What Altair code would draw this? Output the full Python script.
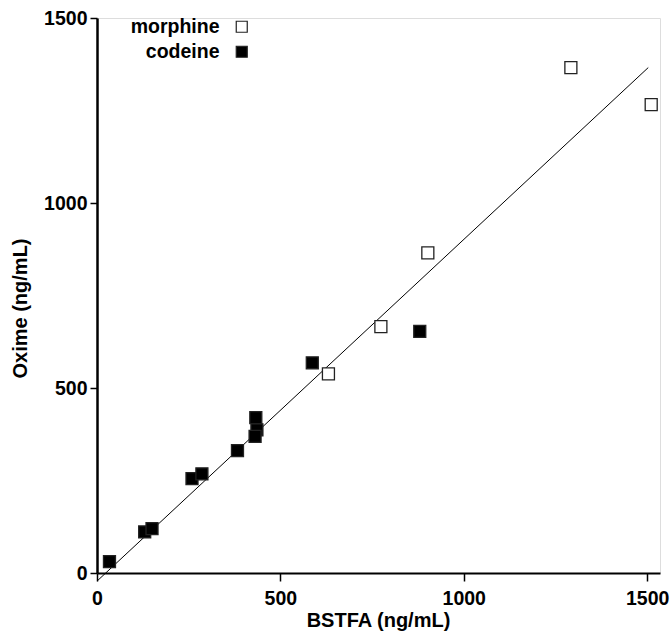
import altair as alt
import pandas as pd

# Data
morphine_x = [631, 774, 902, 1292, 1511]
morphine_y = [538, 666, 865, 1366, 1266]
codeine_x = [34, 130, 150, 259, 286, 383, 433, 436, 431, 587, 880]
codeine_y = [31, 111, 120, 255, 268, 331, 420, 387, 369, 568, 653]
line_x = [0, 1503]
line_y = [-22, 1366]
x_ticks = [0, 500, 1000, 1500]
y_ticks = [0, 500, 1000, 1500]

pts = pd.DataFrame({
    "x": morphine_x + codeine_x,
    "y": morphine_y + codeine_y,
    "drug": ["morphine"] * len(morphine_x) + ["codeine"] * len(codeine_x),
})
fit = pd.DataFrame({"x": line_x, "y": line_y})

FONT = "Liberation Sans"

xscale = alt.Scale(domain=[0, 1535], nice=False, zero=False)
yscale = alt.Scale(domain=[0, 1500], nice=False, zero=False)

xaxis = alt.Axis(
    title="BSTFA (ng/mL)", values=x_ticks, grid=False, format="d",
    tickSize=8, tickWidth=1.5, tickColor="black",
    domainColor="black", domainWidth=2,
    labelFont=FONT, labelFontSize=19.5, labelFontWeight="bold", labelColor="black",
    labelPadding=8, labelBaseline="top", labelFlush=False,
    titleFont=FONT, titleFontSize=20, titleFontWeight="bold", titleColor="black",
    titleX=281, titleY=47, titleBaseline="middle", titleAlign="center",
)
yaxis = alt.Axis(
    title="Oxime (ng/mL)", values=y_ticks, grid=False, format="d",
    tickSize=7, tickWidth=1.5, tickColor="black",
    domainColor="black", domainWidth=2.5,
    labelFont=FONT, labelFontSize=19.5, labelFontWeight="bold", labelColor="black",
    labelPadding=3, labelBaseline="middle", labelFlush=False,
    titleFont=FONT, titleFontSize=20, titleFontWeight="bold", titleColor="black",
    titleX=-77, titleY=290, titleAngle=270, titleBaseline="middle", titleAlign="center",
)

line = alt.Chart(fit).mark_line(color="black", strokeWidth=1, clip=False).encode(
    x=alt.X("x:Q", scale=xscale, axis=xaxis),
    y=alt.Y("y:Q", scale=yscale, axis=yaxis),
)

points = alt.Chart(pts).mark_point(
    shape="square", size=144, filled=True, opacity=1, stroke="#222", strokeWidth=1.3
).encode(
    x=alt.X("x:Q", scale=xscale, axis=xaxis),
    y=alt.Y("y:Q", scale=yscale, axis=yaxis),
    fill=alt.Fill(
        "drug:N",
        scale=alt.Scale(domain=["morphine", "codeine"], range=["white", "black"]),
        legend=alt.Legend(
            title=None, orient="none", legendX=135, legendY=-1,
            padding=0, rowPadding=4, symbolType="square", symbolSize=121,
            symbolStrokeColor="#222", symbolStrokeWidth=1.2, symbolOpacity=1,
            labelFont=FONT, labelFontSize=19.5, labelFontWeight="bold", labelColor="black",
            labelAlign="right", labelOffset={"expr": "-32"}, labelLimit=300,
        ),
    ),
)

chart = alt.layer(line, points).properties(
    width=563, height=555,
    autosize=alt.AutoSizeParams(type="none"),
    padding={"left": 97, "top": 18, "right": 11, "bottom": 59},
).configure_view(stroke=None).configure(background="white")

chart.save("out.html", embed_options={"renderer": "svg", "actions": False})
